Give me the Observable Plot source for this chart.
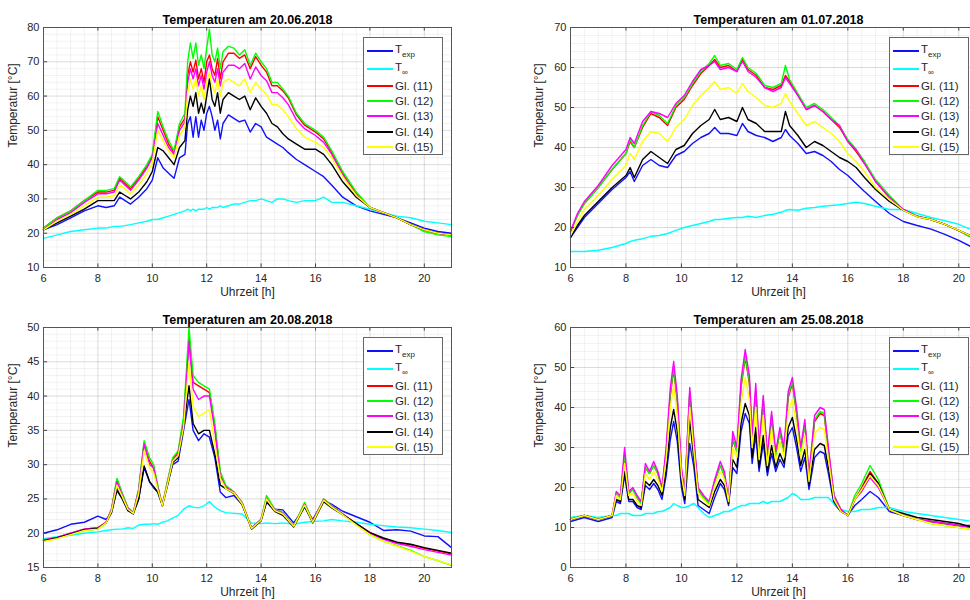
<!DOCTYPE html>
<html><head><meta charset="utf-8">
<script src="https://cdn.jsdelivr.net/npm/d3@7"></script>
<script src="https://cdn.jsdelivr.net/npm/@observablehq/plot@0.6"></script>
<style>
html,body{margin:0;padding:0;background:#fff;}
body{width:970px;height:600px;overflow:hidden;position:relative;font-family:"Liberation Sans",Arial,sans-serif;}
.panel{position:absolute;}
.legend{position:absolute;background:#fff;border:1px solid #666;width:80px;height:118px;box-sizing:border-box;color:#262626;font-size:11.5px;}
.lrow{position:absolute;left:3px;height:14px;display:flex;align-items:center;white-space:nowrap;}
.lline{display:inline-block;width:26px;height:1.8px;margin-right:2px;}
.legend sub{font-size:8px;vertical-align:-4px;}
</style></head>
<body>
<script>
// ---------- shared ----------
const seriesNames = ["T_exp", "T_inf", "Gl. (11)", "Gl. (12)", "Gl. (13)", "Gl. (14)", "Gl. (15)"];
const seriesLabels = ["T<sub>exp</sub>", "T<sub>\u221e</sub>", "Gl. (11)", "Gl. (12)", "Gl. (13)", "Gl. (14)", "Gl. (15)"];
const seriesColors = ["#1010ff", "#00ffff", "#ff0000", "#00ff00", "#ff00ff", "#000000", "#ffff00"];
const titles = ["Temperaturen am 20.06.2018", "Temperaturen am 01.07.2018", "Temperaturen am 20.08.2018", "Temperaturen am 25.08.2018"];
const xTicks = [6, 8, 10, 12, 14, 16, 18, 20];
const yTicks1 = [10, 20, 30, 40, 50, 60, 70, 80];
const yTicks2 = [10, 20, 30, 40, 50, 60, 70];
const yTicks3 = [15, 20, 25, 30, 35, 40, 45, 50];
const yTicks4 = [0, 10, 20, 30, 40, 50, 60];
const xLabel = "Uhrzeit [h]";
const yLabel = "Temperatur [°C]";

// ---------- panel 1: 20.06.2018 ----------
const hours1 = [6,6.5,7,7.5,8,8.3,8.6,8.8,9.0,9.2,9.5,9.8,10.0,10.2,10.4,10.6,10.8,11.0,11.2,11.3,11.4,11.5,11.6,11.7,11.8,11.9,12.0,12.1,12.2,12.3,12.4,12.5,12.6,12.8,13.0,13.2,13.4,13.6,13.8,14.0,14.2,14.4,14.6,14.8,15.0,15.3,15.6,16.0,16.3,16.6,17.0,17.5,18.0,18.5,19.0,19.5,20.0,20.5,21.0];
const texp1 = [21,22.5,24.5,26.5,28,27.5,28,30.5,29.5,28.5,30.5,33,35.5,42,39,37.5,36,42,43,52,54,48,54,48,53,50,55,57,54,50,53,47.5,52,54.5,53.5,52.5,53,49.5,52,51,48,47,46,45,43.5,41.5,40,38,36.5,34,30.5,28,26.5,25.5,24.5,23,21.5,20.5,20];
const tinf1 = [18.5,19.5,20.5,21,21.5,21.5,22,22,22.2,22.5,23,23.5,24,24,24.5,25,25.5,26,26.5,27,26.5,27,26.5,27,27,27,27.5,27,27.5,27.5,27.5,28,27.5,28,28.5,28.5,29,29.5,29.5,30,29.5,29,30,30,29.5,29,29.5,29.5,30.5,29,29,28,27,26,25,24.5,23.5,23,22.5];
const gl11_1 = [21.5,24.5,26.5,29.5,32,32,32.5,36,34.5,33,36,39.5,42.5,54,50,46,43.5,51,53.5,66,70,67,70.5,65,68,64,70,72,68,66,71,65,70,72.5,72.5,71,72,68,71.5,69,67,63,63,61.5,59.5,54.5,51.5,49.5,47.5,43.5,37.5,31.5,27.5,26,24.5,22.5,21,20,19.5];
const gl12_1 = [21.5,24.5,26.5,29.5,32.5,32.5,33,36.5,35,33.5,36.5,40,43,55.5,51,47,44,52,55,70,75.5,71,75.5,69,72,68,74,79.5,72,70,74,68,73,74.5,74,72,73.5,69,72.5,70,68,64,64,62,60,55,52,50,48,44,38,32,27.5,26,24.5,22.5,20.5,19.5,19];
const gl13_1 = [21,24,26,29,31.5,31.5,32,35.5,34,32.5,35.5,39,42,52,48.5,45,43,50,52.5,64,68,65,68,63,66,62,67,70,66,64,68,63,67,69,69,68,69.5,65,68.5,66,64.5,61,61,59.5,57.5,53,50.5,48.5,46.5,43,37,31,27.5,26,24.5,22.5,21,20,19.5];
const gl14_1 = [21,23,25,27,29.5,29.5,29.5,32,31,30,32,35,38,45,44,42,40,45,47,56,60,57,61,55,58,55,60,65,59,57,61,55,59,61,60,59,60,56,59.5,57,55,52,51,49,47.5,46,44.5,44.5,43,40,35,30.5,27.5,26,24.5,22.5,21,20,19.5];
const gl15_1 = [21,23.5,25.5,28,30.5,30.5,31,34,33,31.5,34,37.5,40.5,50,47,44,42,48.5,51,61,65,62,65,60,63,59,64,67,63,61,65,60,64,65,64,63,65,61,64,62,60.5,57.5,57.5,56,54,50.5,48,46.5,45,42,36.5,31,27.5,26,24.5,22.5,21,20,19.5];

// ---------- panel 2: 01.07.2018 ----------
const hours2 = [6,6.25,6.5,7,7.5,8,8.15,8.3,8.6,8.9,9.2,9.5,9.8,10.1,10.4,10.7,11.0,11.2,11.4,11.7,12.0,12.2,12.4,12.7,13.0,13.3,13.6,13.75,13.9,14.2,14.5,14.8,15.1,15.4,15.7,16.0,16.3,16.6,17.0,17.5,18.0,18.5,19.0,19.5,20.0,20.5,21.0];
const texp2 = [17.5,20,22.5,26,29.5,32.5,34,31.5,35.5,37,35.5,35,38,39,41,42.5,43.5,45,43.5,43.5,43,46,44,43,42.5,41.5,42.5,44.5,43,41,38.5,39,38,36.5,34.5,33,31,29,26.5,23.5,21.5,20.5,19.6,18.3,16.8,15,14];
const tinf2 = [14,14,14,14.3,15,16,16.5,16.8,17.2,17.8,18,18.5,19.3,20,20.5,21,21.5,22,22,22.3,22.5,22.5,22.8,22.5,23,23.3,23.8,24.3,24.5,24.3,24.8,25,25.3,25.5,25.7,26,26.3,26,25.3,24.5,24.5,23.5,22.5,21.7,20.8,19.3,18.3];
const gl11_2 = [19,23,26,30,34.5,38.5,41.5,40,45,48.5,47.5,45.5,50,52,55.5,58.5,60.5,62,60,60.5,59,62,59.5,58,55,54.5,55.5,58,56.5,53,49.5,50.5,49,47,45,41.5,39,36,31.5,27.5,24.5,22.8,22,20.8,19.2,17.5,16.3];
const gl12_2 = [19,23,26,30,34.5,38.5,42,40,45.5,49,48,46,50.5,52.5,56,59,61,63,60.5,61,59.5,62.5,60,58.5,55.5,55,56,60.5,57,53.5,50,51,49.5,47.5,45.5,42,39.5,36.5,32,28,24.5,22.8,22,20.8,19.2,17.3,16];
const gl13_2 = [19,23.5,26.5,30.5,35.5,39.5,42.5,41,46.5,49,48.5,47.5,51,53,56.5,59.5,60.5,61.5,59.5,60,59,61.5,59,57.5,55,54,55,57.5,56,53,49.5,50.5,49,47,45.5,41.5,39.5,36,31.5,27.5,24.5,22.8,22,20.8,19.2,17.6,16.5];
const gl14_2 = [17.5,20.5,23,26.5,30,33,35,32.5,37,39,37.5,36,39.5,40.5,43.5,45.5,47,49.5,47,47.5,46.5,50,47,46,44,44,44,49,45.5,43,40,41.5,40.5,39,37.5,36.5,35,32.5,29.5,26.5,24.3,22.7,22,20.8,19.3,17.8,16.8];
const gl15_2 = [18,21.5,24.5,28,32,35.5,38.5,37,41.5,44,43.5,41.5,45,47,50.5,53,55,56.5,54.5,55,53.5,56,54,52.5,50.5,50,51,53.5,51.5,48.5,45.5,46.5,45,43.5,41.5,38.5,36.5,34,30,27,24.3,22.7,22,20.8,19.3,17.7,16.5];

// ---------- panel 3: 20.08.2018 ----------
const hours3 = [6,6.5,7,7.5,8,8.3,8.5,8.7,8.9,9.1,9.3,9.5,9.7,9.9,10.05,10.2,10.37,10.55,10.75,10.95,11.15,11.35,11.5,11.7,11.9,12.1,12.3,12.5,12.7,13.0,13.3,13.65,14.0,14.2,14.5,14.8,15.2,15.6,15.9,16.3,16.6,17.0,17.5,18.0,18.5,19.0,19.5,20.0,20.5,21.0];
const texp3 = [20,20.5,21.3,21.6,22.5,22,23,26.5,25,23.4,23,25,29.6,27.5,26.6,26,24.2,27,30,30.5,35,39.5,35,33.5,34.5,34,31,26,25.2,25.5,24.2,20.8,22,24.5,23.5,23.4,21.5,23.8,22,24.8,24.2,23.2,22.4,21.6,20.4,20.5,20.3,19.6,19.5,17.9];
const tinf3 = [19.2,19.5,19.7,20,20.2,20.4,20.5,20.6,20.6,20.8,20.7,21.2,21.3,21.3,21.4,21.3,21.6,21.8,22.2,22.6,23.5,24,23.8,23.7,24,24.6,23.8,23.3,23,22.9,22.8,21.5,21.4,21.5,21.4,21.5,21.3,21.6,21.7,21.8,22,21.8,21.6,21.3,21.1,20.9,20.8,20.6,20.4,20.1];
const gl11_3 = [19,19.4,20,20.6,20.8,21.6,23.5,27.8,25.7,23.7,23,26.3,33.2,30.5,29.5,26.8,24,27.3,30.8,31.8,36.4,48.5,42,41.5,41,40.5,35.5,28.5,26.8,26,24.5,20.7,22,25.2,23.5,23,21,24.3,21.7,25,24,22.8,21.4,20.1,19.2,18.6,18.3,17.8,17.4,17];
const gl12_3 = [19,19.3,19.8,20.4,20.6,21.5,23.5,28,25.8,23.8,23,26.5,33.5,31,30,27,24,27.5,31,32,37,50,43,42,41.5,41,36,29,27,26,24.5,20.7,22,25.5,23.5,23,21,24.5,21.7,25,24,22.8,21.3,19.8,18.8,18.2,17.5,16.6,16,15.3];
const gl13_3 = [19,19.4,20,20.6,20.8,21.6,23.4,27.5,25.5,23.6,23,26.2,33,30,29.5,26.7,24,27.2,30.6,31.6,36,48,41,39.5,40,40,35,28.3,26.7,26,24.4,20.7,22,25,23.4,22.9,21,24.2,21.7,24.9,23.9,22.8,21.3,20,19.1,18.5,18.1,17.6,17.2,16.8];
const gl14_3 = [18.9,19.3,19.9,20.5,20.7,21.5,23,26.2,25,23.3,22.8,25,29.8,27.5,26.8,26,24,26.8,30.3,31,35.5,41.5,36,34.5,35,35,31.5,27,26.5,25.8,24.2,20.6,21.8,24.6,23.2,22.6,20.9,23.9,21.5,24.6,23.7,22.7,21.4,20.1,19.3,18.7,18.4,17.9,17.5,17.1];
const gl15_3 = [18.8,19.2,19.8,20.4,20.6,21.5,23.2,27,25.3,23.5,22.9,25.8,32,29.5,28.8,26.4,24,27,30.5,31.3,35.5,45,38.5,37,37.5,38,33,28,26.5,25.9,24.3,20.7,21.9,25,23.3,22.8,21,24.1,21.6,24.8,23.8,22.7,21.2,19.8,18.8,18.1,17.4,16.6,16,15.4];

// ---------- panel 4: 25.08.2018 ----------
const hours4 = [6.0,6.5,7.0,7.5,7.65,7.8,7.95,8.1,8.25,8.4,8.55,8.7,8.85,9.0,9.15,9.3,9.45,9.6,9.72,9.85,10.0,10.12,10.3,10.45,10.6,10.8,11.0,11.2,11.4,11.55,11.7,11.85,12.0,12.15,12.3,12.45,12.55,12.68,12.8,12.95,13.1,13.25,13.4,13.55,13.7,13.85,14.0,14.15,14.3,14.45,14.6,14.8,15.0,15.15,15.3,15.5,15.75,16.0,16.25,16.5,16.8,17.1,17.5,18.0,18.5,19.0,19.5,20.0,20.5,21.0];
const texp4 = [11.5,12.5,11.5,12.5,16.5,16,23,16.5,16.5,15,14.5,20.5,19.5,21,19.5,17,23,32,36.5,31.5,20,16,31,25,15.5,14.5,13.5,17.5,21,19.5,15.5,25,23.5,34,38.5,36,26,33,24,31,23,28.5,24,27,25,33,35,30,24,27.5,19.5,27.5,29,28.5,23.5,16,14,13,15.5,17,19,17.5,14,13,12,11.5,11,10.5,10.5,9.5];
const tinf4 = [12.5,13,12.5,13,13,13.5,13.5,13.5,13,13,13,13.5,13.5,13.5,14,14,14.5,15,16,15.5,15,15,15.5,16,15,13.5,12.5,13,13.5,14,14,14.5,15,15.5,15.5,16,16,16,16,16.5,16,16.5,16.5,16.5,17,17.5,18.5,18,17,17,17,17.5,17.5,17.5,17.5,16,14.5,14,14,14.5,14.5,15,15,14,13.5,13,12.5,12,11.5,11];
const gl11_4 = [12,13,12,13,18.5,17.5,28,18.5,19.5,17.5,16,25,23.5,25.5,23.5,19.5,29,43,49.5,41.5,24,18.5,43.5,31,19.5,17.5,16,21.5,25.5,23,16.5,32,29,45,52.5,46,32,44,29,41.5,27,37.5,28,34,29,42.5,46,38.5,29,36,22.5,36.5,38.5,38,29,18,14.5,13,17,20,24,21,14.5,13,12,11.5,11,10.5,10,9];
const gl12_4 = [12,13,12,13,18.5,17.5,28.5,18.5,19.5,17.5,16,25,23.5,25.5,23.5,19.5,29,43.5,50,42,24,18.5,44,31,19.5,17.5,16,21.5,25.5,23,16.5,32.5,29,45.5,53,46.5,32,44.5,29,42,27,38,28,34,29,43,46.5,39,29,36,22.5,37,39,38.5,29,18,14.5,13,18,21,25.5,22,14.5,13,12,11,10.5,10,9.5,8.5];
const gl13_4 = [12,13,12,13,19,18,30,19,20,18,16.5,26,24,26.5,24,20,30,45,51.5,43,25,19,45,32,20,18,16.5,22,26.5,24,17,34,30,47,54.5,48,33,46,30,43,28,39,29,35,30,44,47.5,40,30,37,23,38,40,39.5,30,18,14.5,13,17,19,22.5,20,14.5,13,12,11.5,11,10.5,10,9];
const gl14_4 = [12,13,12,13,17,16.5,24,17,17,15.5,15,21.5,20.5,22,20.5,18,24.5,35,39.5,34,21.5,17,37,27,17,16,15,19,22,20.5,16,27,25,36,41,38,27.5,35,25,33,24,30.5,25,28.5,26,35,37.5,32,25.5,29.5,20.5,29.5,31,30.5,25,16.5,14,13,17,19.5,23.5,21,14.5,13.5,12.5,12,11.5,11,10,9.5];
const gl15_4 = [12,13,12,13,18,17,26,18,18.5,16.5,15.5,23.5,22,24,22,19,27,40,45.5,38,23,18,40,29,18.5,17,15.5,20.5,24,22,16.5,30,27.5,41,47.5,42,30,40,27,38,25.5,34.5,26.5,31.5,27.5,39,42,35.5,27.5,33,21.5,33.5,35,34.5,27,17,14,13,17,19.5,23,20.5,14.5,13,12,11,10.5,10,9.5,9];

// ---------- build ----------
const panels = [
  {left: 0,   top: 0,   width: 485, mL: 43, mR: 34, hours: hours1, series: [texp1, tinf1, gl11_1, gl12_1, gl13_1, gl14_1, gl15_1], y: [10, 80], yt: yTicks1, yMinorStep: 2, title: titles[0], leg: [363, 37], yLabX: -30},
  {left: 485, top: 0,   width: 520, mL: 85, mR: 19, hours: hours2, series: [texp2, tinf2, gl11_2, gl12_2, gl13_2, gl14_2, gl15_2], y: [10, 70], yt: yTicks2, yMinorStep: 2, title: titles[1], leg: [889, 37], yLabX: -31},
  {left: 0,   top: 300, width: 485, mL: 43, mR: 34, hours: hours3, series: [texp3, tinf3, gl11_3, gl12_3, gl13_3, gl14_3, gl15_3], y: [15, 50], yt: yTicks3, yMinorStep: 1, title: titles[2], leg: [363, 337], yLabX: -30},
  {left: 485, top: 300, width: 520, mL: 85, mR: 19, hours: hours4, series: [texp4, tinf4, gl11_4, gl12_4, gl13_4, gl14_4, gl15_4], y: [0, 60], yt: yTicks4, yMinorStep: 2, title: titles[3], leg: [889, 337], yLabX: -31}
];

const xMinor = d3.range(6, 21.01, 0.5).filter(v => !xTicks.includes(v));

panels.forEach(p => {
  const rows = [];
  p.series.forEach((vals, si) => vals.forEach((v, i) => rows.push({t: p.hours[i], v, s: seriesNames[si]})));
  const yMinor = d3.range(p.y[0], p.y[1] + 0.001, p.yMinorStep).filter(v => !p.yt.includes(v));
  const [y0, y1] = p.y;
  const tl = (y1 - y0) * 0.015;
  const chart = Plot.plot({
    width: p.width, height: 300,
    marginLeft: p.mL, marginRight: p.mR, marginTop: 27, marginBottom: 33,
    style: {fontFamily: "Liberation Sans, Arial, sans-serif", fontSize: "11px", color: "#262626", background: "transparent", overflow: "visible"},
    x: {domain: [6, 21]},
    y: {domain: p.y},
    color: {domain: seriesNames, range: seriesColors},
    marks: [
      Plot.ruleX(xMinor, {stroke: "#000", strokeOpacity: 0.05}),
      Plot.ruleY(yMinor, {stroke: "#000", strokeOpacity: 0.05}),
      Plot.gridX({ticks: xTicks, stroke: "#000", strokeOpacity: 0.14}),
      Plot.gridY({ticks: p.yt, stroke: "#000", strokeOpacity: 0.14}),
      Plot.lineY(rows, {x: "t", y: "v", z: "s", stroke: "s", strokeWidth: 1.4, curve: "linear"}),
      Plot.ruleX(xTicks, {y1: y0, y2: y0 + tl, stroke: "#444"}),
      Plot.ruleX(xTicks, {y1: y1 - tl, y2: y1, stroke: "#444"}),
      Plot.ruleY(p.yt, {x1: 6, x2: 6 + 15 * 0.01, stroke: "#444"}),
      Plot.frame({stroke: "#555", strokeWidth: 1}),
      Plot.axisX({ticks: xTicks, tickSize: 0, tickPadding: 7, label: null, fontSize: 11}),
      Plot.axisY({ticks: p.yt, tickSize: 0, tickPadding: 4, label: null, fontSize: 11}),
      Plot.text([xLabel], {frameAnchor: "bottom", dy: 28, fontSize: 12, fill: "#262626"}),
      Plot.text([yLabel], {frameAnchor: "left", dx: p.yLabX, rotate: -90, fontSize: 12, fill: "#262626"}),
      Plot.text([p.title], {frameAnchor: "top", dy: -12, fontWeight: "bold", fontSize: 12.5, fill: "#000"})
    ]
  });
  chart.classList.add("panel");
  chart.style.left = p.left + "px";
  chart.style.top = p.top + "px";
  document.body.appendChild(chart);

  const leg = document.createElement("div");
  leg.className = "legend";
  leg.style.left = p.leg[0] + "px";
  leg.style.top = p.leg[1] + "px";
  const rowY = [13, 31, 48, 63, 78, 94, 109];
  seriesNames.forEach((n, i) => {
    const r = document.createElement("div");
    r.className = "lrow";
    r.style.top = (rowY[i] - 7) + "px";
    const ln = document.createElement("span");
    ln.className = "lline";
    ln.style.background = seriesColors[i];
    const tx = document.createElement("span");
    tx.innerHTML = seriesLabels[i];
    r.appendChild(ln); r.appendChild(tx);
    leg.appendChild(r);
  });
  document.body.appendChild(leg);
});
</script>
</body></html>
